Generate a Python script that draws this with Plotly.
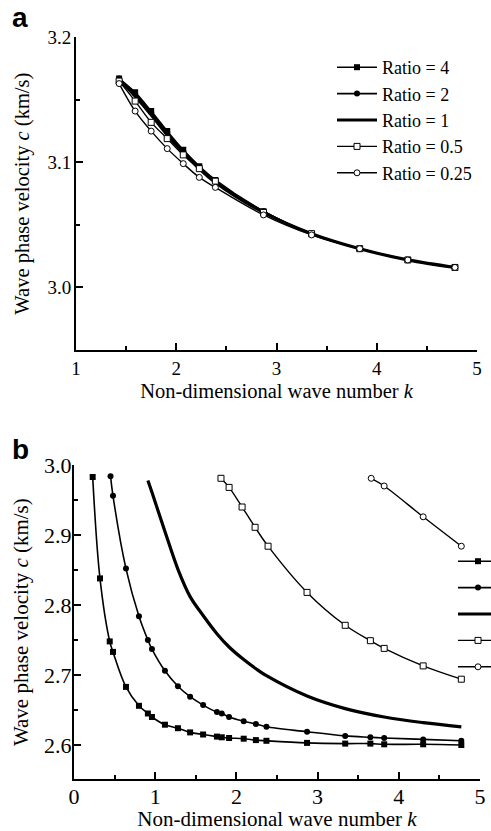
import plotly.graph_objects as go

# ---------------- Panel a data ----------------
k_a = [1.43, 1.59, 1.75, 1.91, 2.07, 2.23, 2.39, 2.87, 3.35, 3.83, 4.31, 4.78]
a_r4 = [3.167, 3.156, 3.141, 3.125, 3.110, 3.097, 3.086, 3.061, 3.043, 3.031, 3.022, 3.016]
a_r2 = [3.167, 3.155, 3.140, 3.124, 3.109, 3.096, 3.085, 3.061, 3.043, 3.031, 3.022, 3.016]
a_r1 = [3.166, 3.153, 3.138, 3.122, 3.108, 3.095, 3.084, 3.060, 3.043, 3.031, 3.022, 3.016]
a_r05 = [3.165, 3.149, 3.132, 3.119, 3.106, 3.095, 3.085, 3.060, 3.043, 3.031, 3.022, 3.016]
a_r025 = [3.163, 3.141, 3.125, 3.111, 3.099, 3.088, 3.080, 3.058, 3.042, 3.031, 3.022, 3.016]

# ---------------- Panel b data ----------------
k_b4 = [0.23, 0.32, 0.44, 0.48, 0.64, 0.80, 0.91, 0.96, 1.12, 1.28, 1.43, 1.59,
        1.76, 1.82, 1.91, 2.09, 2.24, 2.37, 2.87, 3.34, 3.65, 3.82, 4.30, 4.77]
b_r4 = [2.983, 2.838, 2.748, 2.733, 2.683, 2.656, 2.645, 2.640, 2.629, 2.624, 2.618, 2.615,
        2.612, 2.611, 2.610, 2.609, 2.607, 2.606, 2.603, 2.602, 2.602, 2.601, 2.601, 2.600]
k_b2 = [0.45, 0.48, 0.64, 0.80, 0.91, 0.96, 1.12, 1.28, 1.43, 1.59, 1.76, 1.82,
        1.91, 2.09, 2.24, 2.37, 2.87, 3.34, 3.65, 3.82, 4.30, 4.77]
b_r2 = [2.984, 2.956, 2.852, 2.784, 2.750, 2.737, 2.706, 2.684, 2.669, 2.657, 2.647, 2.645,
        2.640, 2.634, 2.630, 2.626, 2.619, 2.613, 2.611, 2.610, 2.608, 2.606]
k_b1 = [0.91, 0.96, 1.12, 1.28, 1.43, 1.59, 1.76, 1.91, 2.09, 2.24, 2.37, 2.87,
        3.34, 3.82, 4.30, 4.77]
b_r1 = [2.978, 2.961, 2.905, 2.851, 2.812, 2.785, 2.759, 2.740, 2.722, 2.709, 2.699, 2.670,
        2.652, 2.640, 2.632, 2.626]
k_b05 = [1.81, 1.91, 2.07, 2.23, 2.39, 2.87, 3.34, 3.65, 3.82, 4.30, 4.77]
b_r05 = [2.981, 2.968, 2.940, 2.911, 2.884, 2.818, 2.771, 2.749, 2.738, 2.713, 2.694]
k_b025 = [3.66, 3.82, 4.30, 4.77]
b_r025 = [2.981, 2.970, 2.926, 2.884]

names = ["Ratio = 4", "Ratio = 2", "Ratio = 1", "Ratio = 0.5", "Ratio = 0.25"]

x_ticks_a = [1, 2, 3, 4, 5]
y_ticks_a = [3.0, 3.1, 3.2]
y_text_a = ["3.0", "3.1", "3.2"]
x_ticks_b = [0, 1, 2, 3, 4, 5]
y_ticks_b = [2.6, 2.7, 2.8, 2.9, 3.0]
y_text_b = ["2.6", "2.7", "2.8", "2.9", "3.0"]

SERIF = "Liberation Serif"

styles = [
    dict(mode="lines+markers", line=dict(color="black", width=1.6),
         marker=dict(symbol="square", size=6, color="black")),
    dict(mode="lines+markers", line=dict(color="black", width=1.6),
         marker=dict(symbol="circle", size=6, color="black")),
    dict(mode="lines", line=dict(color="black", width=3.2)),
    dict(mode="lines+markers", line=dict(color="black", width=1.4),
         marker=dict(symbol="square", size=6, color="white",
                     line=dict(color="black", width=1))),
    dict(mode="lines+markers", line=dict(color="black", width=1.4),
         marker=dict(symbol="circle", size=6, color="white",
                     line=dict(color="black", width=1))),
]

fig = go.Figure()

series_a = [a_r4, a_r2, a_r1, a_r05, a_r025]
for nm, ys, st in zip(names, series_a, styles):
    fig.add_trace(go.Scatter(x=k_a, y=ys, name=nm, xaxis="x", yaxis="y",
                             legend="legend", line_shape="spline", **st))

series_b = [(k_b4, b_r4), (k_b2, b_r2), (k_b1, b_r1), (k_b05, b_r05), (k_b025, b_r025)]
for nm, (xs, ys), st in zip(names, series_b, styles):
    fig.add_trace(go.Scatter(x=xs, y=ys, name=nm, xaxis="x2", yaxis="y2",
                             legend="legend2", line_shape="spline", **st))

W, H = 491, 831


def axis_common(fs):
    return dict(showline=True, linecolor="black", linewidth=2, ticks="inside",
                ticklen=7, tickwidth=1.5, tickcolor="black", showgrid=False,
                zeroline=False, mirror=False,
                tickfont=dict(family=SERIF, size=fs, color="black"))


def minor(dt):
    return dict(ticks="inside", ticklen=4, dtick=dt, tick0=0,
                tickcolor="black", tickwidth=1.5)


xa = axis_common(19)
xa.update(domain=[76 / W, 477 / W], range=[1, 5], tickvals=x_ticks_a,
          anchor="y", minor=minor(0.5),
          title=dict(text="Non-dimensional wave number <i>k</i>",
                     font=dict(family=SERIF, size=20.5, color="black"), standoff=6))
ya = axis_common(19)
ya.update(domain=[1 - 350 / H, 1 - 37.3 / H], range=[2.95, 3.2],
          tickvals=y_ticks_a, ticktext=y_text_a, anchor="x", minor=minor(0.05),
          ticklabelstandoff=-1,
          title=dict(text="Wave phase velocity <i>c</i> (km/s)",
                     font=dict(family=SERIF, size=20.5, color="black"), standoff=12))

xb = axis_common(22)
xb.update(domain=[74 / W, 480 / W], range=[0, 5], tickvals=x_ticks_b,
          anchor="y2", minor=minor(0.5), ticklabelstandoff=-4,
          title=dict(text="Non-dimensional wave number <i>k</i>",
                     font=dict(family=SERIF, size=21, color="black"), standoff=6))
yb = axis_common(22)
yb.update(domain=[1 - 779.3 / H, 1 - 465 / H], range=[2.551, 3.0],
          tickvals=y_ticks_b, ticktext=y_text_b, anchor="x2", minor=minor(0.05),
          ticklabelstandoff=-4,
          title=dict(text="Wave phase velocity <i>c</i> (km/s)",
                     font=dict(family=SERIF, size=21, color="black"), standoff=10))

legend_common = dict(bgcolor="rgba(0,0,0,0)", borderwidth=0,
                     font=dict(family=SERIF, size=18, color="black"),
                     tracegroupgap=0, itemwidth=40, xanchor="left", yanchor="top",
                     traceorder="normal")

fig.update_layout(
    width=W, height=H,
    margin=dict(l=0, r=0, t=0, b=0, autoexpand=False),
    paper_bgcolor="white", plot_bgcolor="white",
    xaxis=xa, yaxis=ya, xaxis2=xb, yaxis2=yb,
    legend=dict(x=332 / W, y=1 - 49 / H, **legend_common),
    legend2=dict(x=453 / W, y=1 - 543 / H, **legend_common),
    showlegend=True,
    annotations=[
        dict(text="<b>a</b>", x=10 / W, y=1 - 0 / H, xref="paper", yref="paper",
             xanchor="left", yanchor="top", showarrow=False,
             font=dict(family="Liberation Sans", size=28, color="black")),
        dict(text="<b>b</b>", x=10 / W, y=1 - 432 / H, xref="paper", yref="paper",
             xanchor="left", yanchor="top", showarrow=False,
             font=dict(family="Liberation Sans", size=28, color="black")),
    ],
)

fig.write_html("out.html", config=dict(displayModeBar=False),
               post_script="document.body.style.margin='0';document.body.style.overflow='hidden';")
